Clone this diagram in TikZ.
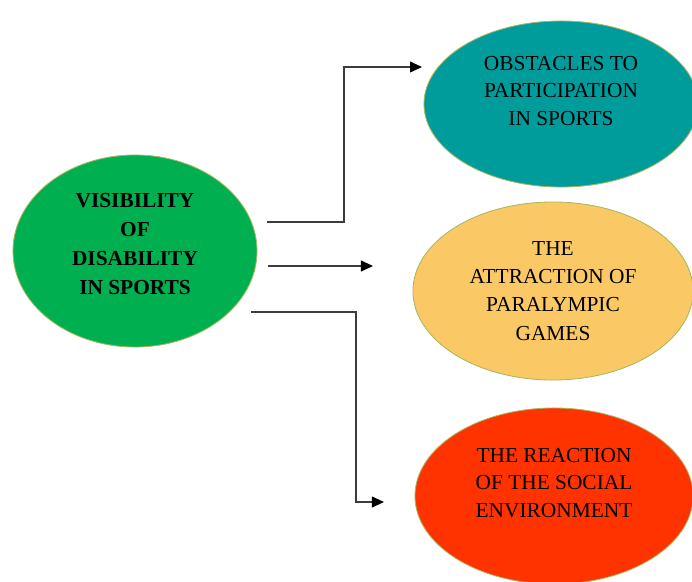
\documentclass[tikz,border=0pt]{standalone}
\usepackage{fontspec}
\setmainfont{Liberation Serif}
\usetikzlibrary{shapes.geometric,arrows.meta}
\definecolor{visGreen}{HTML}{00B050}
\definecolor{obsTeal}{HTML}{009B9B}
\definecolor{attYellow}{HTML}{FAC864}
\definecolor{reaRed}{HTML}{FF3300}
\definecolor{rimColor}{HTML}{A8B860}
\definecolor{lineGray}{HTML}{3C3C3C}

\begin{document}
\begin{tikzpicture}[%%
  x=0.025cm,y=-0.025cm,%%
  bubbleStyle/.style={ellipse,draw=rimColor,line width=0.6pt,inner sep=0pt},%%
  textStyle/.style={align=center,font=\fontsize{15.2}{20}\selectfont},%%
  arrowStyle/.style={-{Triangle[length=3mm,width=2.7mm,color=black]},line width=1pt,draw=lineGray}%%
]
%%
\useasboundingbox (0,0) rectangle (692,581);
%%
%% The central ellipse.
\node[bubbleStyle,fill=visGreen,minimum width=6.1cm,minimum height=4.8cm] (visibility) at (135,251) {};
\node[textStyle,font=\bfseries\fontsize{15.2}{20.6}\selectfont] (visibilityText) at (135,244) {VISIBILITY\\OF\\DISABILITY\\IN SPORTS};
%%
%% The three outer ellipses.
\node[bubbleStyle,fill=obsTeal,minimum width=6.85cm,minimum height=4.15cm] (obstacles) at (561,104) {};
\node[textStyle,font=\fontsize{15.2}{19.8}\selectfont] (obstaclesText) at (561,91) {OBSTACLES TO\\PARTICIPATION\\IN SPORTS};
%%
\node[bubbleStyle,fill=attYellow,minimum width=7cm,minimum height=4.45cm] (attraction) at (553,291) {};
\node[textStyle] (attractionText) at (553,291) {THE\\ATTRACTION OF\\PARALYMPIC\\GAMES};
%%
\node[bubbleStyle,fill=reaRed,minimum width=6.95cm,minimum height=4.4cm] (reaction) at (554,496) {};
\node[textStyle,font=\fontsize{15.2}{19.5}\selectfont] (reactionText) at (554,483) {THE REACTION\\OF THE SOCIAL\\ENVIRONMENT};
%%
%% Free ends of the arrows.
\coordinate (obsStart) at (267,222);
\coordinate (obsEnd) at (422,67);
\coordinate (attStart) at (268,266);
\coordinate (attEnd) at (373,266);
\coordinate (reaStart) at (251,312);
\coordinate (reaEnd) at (384,502);
%%
\draw[arrowStyle] (obsStart) -- ++(77,0) |- (obsEnd);
\draw[arrowStyle] (attStart) -- (attEnd);
\draw[arrowStyle] (reaStart) -- ++(105,0) |- (reaEnd);
\end{tikzpicture}
\end{document}
